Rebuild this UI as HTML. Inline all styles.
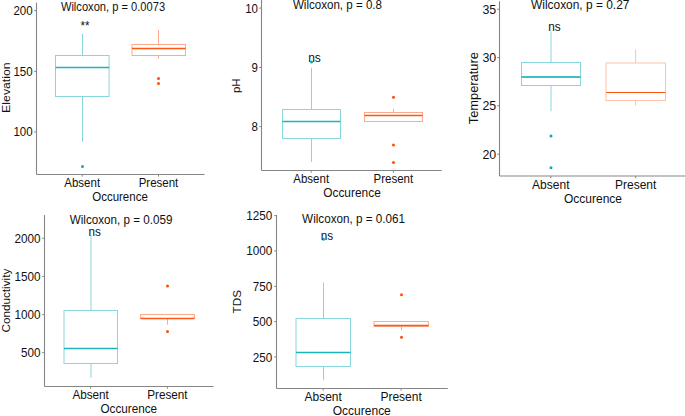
<!DOCTYPE html>
<html><head><meta charset="utf-8"><style>
html,body{margin:0;padding:0;background:#fff;}
svg{display:block;}
text{font-family:"Liberation Sans",sans-serif;fill:#111;}
</style></head><body>
<svg width="685" height="416" viewBox="0 0 685 416">
<rect width="685" height="416" fill="#fff"/>
<line x1="82.5" y1="33.7" x2="82.5" y2="55.5" stroke="#88d6dc" stroke-width="1"/>
<line x1="82.5" y1="96.5" x2="82.5" y2="141.8" stroke="#88d6dc" stroke-width="1"/>
<rect x="55.5" y="55.5" width="53.6" height="41" fill="none" stroke="#88d6dc" stroke-width="1"/>
<line x1="55.5" y1="67.5" x2="109.1" y2="67.5" stroke="#1cb3bf" stroke-width="1.5"/>
<circle cx="82.5" cy="166.5" r="1.5" fill="#00AFBB"/>
<line x1="158.5" y1="30" x2="158.5" y2="44.5" stroke="#fdab8c" stroke-width="1"/>
<line x1="158.5" y1="55.5" x2="158.5" y2="58.7" stroke="#fdab8c" stroke-width="1"/>
<rect x="132" y="44.5" width="53.5" height="11" fill="none" stroke="#fdab8c" stroke-width="1"/>
<line x1="132" y1="48.5" x2="185.5" y2="48.5" stroke="#fc5714" stroke-width="1.5"/>
<circle cx="158.5" cy="78.5" r="1.5" fill="#FC4E07"/>
<circle cx="158.5" cy="83.5" r="1.5" fill="#FC4E07"/>
<line x1="36.5" y1="2.6" x2="36.5" y2="174.5" stroke="#858585" stroke-width="1.1"/>
<line x1="36.5" y1="174.5" x2="204.5" y2="174.5" stroke="#858585" stroke-width="1.1"/>
<line x1="34.2" y1="10.6" x2="36.5" y2="10.6" stroke="#858585" stroke-width="1"/>
<text x="32.6" y="15.1" font-size="12.19" textLength="19.19" lengthAdjust="spacingAndGlyphs" text-anchor="end">200</text>
<line x1="34.2" y1="71.4" x2="36.5" y2="71.4" stroke="#858585" stroke-width="1"/>
<text x="32.6" y="75.9" font-size="12.19" textLength="19.19" lengthAdjust="spacingAndGlyphs" text-anchor="end">150</text>
<line x1="34.2" y1="131.9" x2="36.5" y2="131.9" stroke="#858585" stroke-width="1"/>
<text x="32.6" y="136.4" font-size="12.19" textLength="19.19" lengthAdjust="spacingAndGlyphs" text-anchor="end">100</text>
<line x1="82.2" y1="174.5" x2="82.2" y2="176.7" stroke="#858585" stroke-width="1"/>
<text x="82.2" y="186.7" font-size="12.19" textLength="35.8" lengthAdjust="spacingAndGlyphs" text-anchor="middle">Absent</text>
<line x1="158.5" y1="174.5" x2="158.5" y2="176.7" stroke="#858585" stroke-width="1"/>
<text x="158.5" y="186.7" font-size="12.19" textLength="39.63" lengthAdjust="spacingAndGlyphs" text-anchor="middle">Present</text>
<text x="120" y="201.2" font-size="12.19" textLength="55.61" lengthAdjust="spacingAndGlyphs" text-anchor="middle">Occurence</text>
<text transform="translate(9.6,87.6) scale(0.95,1) rotate(-90)" font-size="12.3" text-anchor="middle">Elevation</text>
<text x="60.9" y="10.8" font-size="12.4" textLength="104.2" lengthAdjust="spacingAndGlyphs">Wilcoxon, p = 0.0073</text>
<text x="84.9" y="29.5" font-size="12.19" textLength="8.95" lengthAdjust="spacingAndGlyphs" text-anchor="middle">**</text>
<line x1="311.5" y1="67.9" x2="311.5" y2="109.5" stroke="#88d6dc" stroke-width="1"/>
<line x1="311.5" y1="138.5" x2="311.5" y2="161.9" stroke="#88d6dc" stroke-width="1"/>
<rect x="282.5" y="109.5" width="58" height="29" fill="none" stroke="#88d6dc" stroke-width="1"/>
<line x1="282.5" y1="121.5" x2="340.5" y2="121.5" stroke="#1cb3bf" stroke-width="1.5"/>
<circle cx="311.5" cy="61.9" r="1.5" fill="#00AFBB"/>
<line x1="393.5" y1="108.9" x2="393.5" y2="112.5" stroke="#fdab8c" stroke-width="1"/>
<rect x="364.5" y="112.5" width="58" height="9" fill="none" stroke="#fdab8c" stroke-width="1"/>
<line x1="364.5" y1="115.5" x2="422.5" y2="115.5" stroke="#fc5714" stroke-width="1.5"/>
<circle cx="393.5" cy="97.3" r="1.5" fill="#FC4E07"/>
<circle cx="393.5" cy="144.9" r="1.5" fill="#FC4E07"/>
<circle cx="393.5" cy="162.5" r="1.5" fill="#FC4E07"/>
<line x1="261.5" y1="0" x2="261.5" y2="170.5" stroke="#858585" stroke-width="1.1"/>
<line x1="261.5" y1="170.5" x2="441.8" y2="170.5" stroke="#858585" stroke-width="1.1"/>
<line x1="259.2" y1="8.1" x2="261.5" y2="8.1" stroke="#858585" stroke-width="1"/>
<text x="258" y="12.6" font-size="12.19" textLength="12.79" lengthAdjust="spacingAndGlyphs" text-anchor="end">10</text>
<line x1="259.2" y1="67.5" x2="261.5" y2="67.5" stroke="#858585" stroke-width="1"/>
<text x="258" y="72" font-size="12.19" textLength="6.4" lengthAdjust="spacingAndGlyphs" text-anchor="end">9</text>
<line x1="259.2" y1="126.6" x2="261.5" y2="126.6" stroke="#858585" stroke-width="1"/>
<text x="258" y="131.1" font-size="12.19" textLength="6.4" lengthAdjust="spacingAndGlyphs" text-anchor="end">8</text>
<line x1="311.2" y1="170.5" x2="311.2" y2="172.7" stroke="#858585" stroke-width="1"/>
<text x="311.2" y="183" font-size="12.19" textLength="35.8" lengthAdjust="spacingAndGlyphs" text-anchor="middle">Absent</text>
<line x1="393.4" y1="170.5" x2="393.4" y2="172.7" stroke="#858585" stroke-width="1"/>
<text x="393.4" y="183" font-size="12.19" textLength="39.63" lengthAdjust="spacingAndGlyphs" text-anchor="middle">Present</text>
<text x="352" y="196.7" font-size="12.61" textLength="57.54" lengthAdjust="spacingAndGlyphs" text-anchor="middle">Occurence</text>
<text transform="translate(240.2,85.7) scale(0.95,1) rotate(-90)" font-size="11.5" text-anchor="middle">pH</text>
<text x="292.9" y="8.8" font-size="12.4" textLength="89.1" lengthAdjust="spacingAndGlyphs">Wilcoxon, p = 0.8</text>
<text x="314.5" y="61.8" font-size="12.72" textLength="12.67" lengthAdjust="spacingAndGlyphs" text-anchor="middle">ns</text>
<line x1="551" y1="31.3" x2="551" y2="62.5" stroke="#88d6dc" stroke-width="1"/>
<line x1="551" y1="85.5" x2="551" y2="111.3" stroke="#88d6dc" stroke-width="1"/>
<rect x="521.5" y="62.5" width="59" height="23" fill="none" stroke="#88d6dc" stroke-width="1"/>
<line x1="521.5" y1="77" x2="580.5" y2="77" stroke="#3dbfc8" stroke-width="2.0"/>
<circle cx="551" cy="136" r="1.5" fill="#00AFBB"/>
<circle cx="551" cy="167.7" r="1.5" fill="#00AFBB"/>
<line x1="635.6" y1="49.6" x2="635.6" y2="63" stroke="#fdc3ab" stroke-width="1"/>
<line x1="635.6" y1="100.5" x2="635.6" y2="105.8" stroke="#fdc3ab" stroke-width="1"/>
<rect x="606" y="63" width="59.5" height="37.5" fill="none" stroke="#fdc3ab" stroke-width="1"/>
<line x1="606" y1="92.5" x2="665.5" y2="92.5" stroke="#fc5416" stroke-width="1.2"/>
<line x1="499.5" y1="1.3" x2="499.5" y2="176" stroke="#858585" stroke-width="1.1"/>
<line x1="499.5" y1="176" x2="685" y2="176" stroke="#858585" stroke-width="1.1"/>
<line x1="497.2" y1="9.25" x2="499.5" y2="9.25" stroke="#858585" stroke-width="1"/>
<text x="496.2" y="13.75" font-size="13.14" textLength="13.79" lengthAdjust="spacingAndGlyphs" text-anchor="end">35</text>
<line x1="497.2" y1="57.6" x2="499.5" y2="57.6" stroke="#858585" stroke-width="1"/>
<text x="496.2" y="62.1" font-size="13.14" textLength="13.79" lengthAdjust="spacingAndGlyphs" text-anchor="end">30</text>
<line x1="497.2" y1="105.7" x2="499.5" y2="105.7" stroke="#858585" stroke-width="1"/>
<text x="496.2" y="110.2" font-size="13.14" textLength="13.79" lengthAdjust="spacingAndGlyphs" text-anchor="end">25</text>
<line x1="497.2" y1="154.2" x2="499.5" y2="154.2" stroke="#858585" stroke-width="1"/>
<text x="496.2" y="158.7" font-size="13.14" textLength="13.79" lengthAdjust="spacingAndGlyphs" text-anchor="end">20</text>
<line x1="550.8" y1="176" x2="550.8" y2="178.2" stroke="#858585" stroke-width="1"/>
<text x="550.8" y="188.7" font-size="12.72" textLength="37.36" lengthAdjust="spacingAndGlyphs" text-anchor="middle">Absent</text>
<line x1="635.7" y1="176" x2="635.7" y2="178.2" stroke="#858585" stroke-width="1"/>
<text x="635.7" y="188.7" font-size="12.72" textLength="41.36" lengthAdjust="spacingAndGlyphs" text-anchor="middle">Present</text>
<text x="593" y="203.2" font-size="12.72" textLength="58.03" lengthAdjust="spacingAndGlyphs" text-anchor="middle">Occurence</text>
<text transform="translate(478.4,88.2) scale(0.95,1) rotate(-90)" font-size="12.85" text-anchor="middle">Temperature</text>
<text x="531" y="9.1" font-size="12.61" textLength="98.4" lengthAdjust="spacingAndGlyphs">Wilcoxon, p = 0.27</text>
<text x="554.4" y="31.3" font-size="12.51" textLength="12.46" lengthAdjust="spacingAndGlyphs" text-anchor="middle">ns</text>
<line x1="91" y1="235" x2="91" y2="310.5" stroke="#88d6dc" stroke-width="1"/>
<line x1="91" y1="363.5" x2="91" y2="377.8" stroke="#88d6dc" stroke-width="1"/>
<rect x="64" y="310.5" width="53.5" height="53" fill="none" stroke="#88d6dc" stroke-width="1"/>
<line x1="64" y1="348.5" x2="117.5" y2="348.5" stroke="#1cb3bf" stroke-width="1.5"/>
<line x1="167.5" y1="314" x2="167.5" y2="314.5" stroke="#fdab8c" stroke-width="1"/>
<line x1="167.5" y1="318.5" x2="167.5" y2="324.7" stroke="#fdab8c" stroke-width="1"/>
<rect x="140.5" y="314.5" width="54" height="4" fill="none" stroke="#fdab8c" stroke-width="1"/>
<line x1="140.5" y1="318.5" x2="194.5" y2="318.5" stroke="#fc5714" stroke-width="1.5"/>
<circle cx="167.5" cy="286.1" r="1.5" fill="#FC4E07"/>
<circle cx="167.5" cy="331.4" r="1.5" fill="#FC4E07"/>
<line x1="44.5" y1="215.1" x2="44.5" y2="386.5" stroke="#858585" stroke-width="1.1"/>
<line x1="44.5" y1="386.5" x2="213.6" y2="386.5" stroke="#858585" stroke-width="1.1"/>
<line x1="42.2" y1="238.3" x2="44.5" y2="238.3" stroke="#858585" stroke-width="1"/>
<text x="40.6" y="242.8" font-size="12.4" textLength="26.03" lengthAdjust="spacingAndGlyphs" text-anchor="end">2000</text>
<line x1="42.2" y1="276.4" x2="44.5" y2="276.4" stroke="#858585" stroke-width="1"/>
<text x="40.6" y="280.9" font-size="12.4" textLength="26.03" lengthAdjust="spacingAndGlyphs" text-anchor="end">1500</text>
<line x1="42.2" y1="314.6" x2="44.5" y2="314.6" stroke="#858585" stroke-width="1"/>
<text x="40.6" y="319.1" font-size="12.4" textLength="26.03" lengthAdjust="spacingAndGlyphs" text-anchor="end">1000</text>
<line x1="42.2" y1="352.6" x2="44.5" y2="352.6" stroke="#858585" stroke-width="1"/>
<text x="40.6" y="357.1" font-size="12.4" textLength="19.52" lengthAdjust="spacingAndGlyphs" text-anchor="end">500</text>
<line x1="90.6" y1="386.5" x2="90.6" y2="388.7" stroke="#858585" stroke-width="1"/>
<text x="90.6" y="398.5" font-size="12.4" textLength="36.43" lengthAdjust="spacingAndGlyphs" text-anchor="middle">Absent</text>
<line x1="167.4" y1="386.5" x2="167.4" y2="388.7" stroke="#858585" stroke-width="1"/>
<text x="167.4" y="398.5" font-size="12.4" textLength="40.32" lengthAdjust="spacingAndGlyphs" text-anchor="middle">Present</text>
<text x="128.8" y="412.9" font-size="12.4" textLength="56.57" lengthAdjust="spacingAndGlyphs" text-anchor="middle">Occurence</text>
<text transform="translate(10.2,300.6) scale(0.95,1) rotate(-90)" font-size="11.7" text-anchor="middle">Conductivity</text>
<text x="69.8" y="223.5" font-size="12.51" textLength="102.6" lengthAdjust="spacingAndGlyphs">Wilcoxon, p = 0.059</text>
<text x="94.7" y="235.6" font-size="12.4" textLength="12.36" lengthAdjust="spacingAndGlyphs" text-anchor="middle">ns</text>
<line x1="323.5" y1="282.5" x2="323.5" y2="318.5" stroke="#88d6dc" stroke-width="1"/>
<line x1="323.5" y1="366.5" x2="323.5" y2="380.2" stroke="#88d6dc" stroke-width="1"/>
<rect x="296" y="318.5" width="54.5" height="48" fill="none" stroke="#88d6dc" stroke-width="1"/>
<line x1="296" y1="352.5" x2="350.5" y2="352.5" stroke="#1cb3bf" stroke-width="1.5"/>
<circle cx="323.5" cy="239.3" r="1.5" fill="#00AFBB"/>
<line x1="401.5" y1="321.2" x2="401.5" y2="321.5" stroke="#fdab8c" stroke-width="1"/>
<line x1="401.5" y1="326.5" x2="401.5" y2="330.4" stroke="#fdab8c" stroke-width="1"/>
<rect x="374" y="321.5" width="54.5" height="5" fill="none" stroke="#fdab8c" stroke-width="1"/>
<line x1="374" y1="325.5" x2="428.5" y2="325.5" stroke="#fc5714" stroke-width="1.5"/>
<circle cx="401.5" cy="294.8" r="1.5" fill="#FC4E07"/>
<circle cx="401.5" cy="337.2" r="1.5" fill="#FC4E07"/>
<line x1="276.5" y1="215.1" x2="276.5" y2="388.5" stroke="#858585" stroke-width="1.1"/>
<line x1="276.5" y1="388.5" x2="447.8" y2="388.5" stroke="#858585" stroke-width="1.1"/>
<line x1="274.2" y1="215.6" x2="276.5" y2="215.6" stroke="#858585" stroke-width="1"/>
<text x="272.2" y="220.1" font-size="12.4" textLength="26.03" lengthAdjust="spacingAndGlyphs" text-anchor="end">1250</text>
<line x1="274.2" y1="250.9" x2="276.5" y2="250.9" stroke="#858585" stroke-width="1"/>
<text x="272.2" y="255.4" font-size="12.4" textLength="26.03" lengthAdjust="spacingAndGlyphs" text-anchor="end">1000</text>
<line x1="274.2" y1="286.4" x2="276.5" y2="286.4" stroke="#858585" stroke-width="1"/>
<text x="272.2" y="290.9" font-size="12.4" textLength="19.52" lengthAdjust="spacingAndGlyphs" text-anchor="end">750</text>
<line x1="274.2" y1="321.6" x2="276.5" y2="321.6" stroke="#858585" stroke-width="1"/>
<text x="272.2" y="326.1" font-size="12.4" textLength="19.52" lengthAdjust="spacingAndGlyphs" text-anchor="end">500</text>
<line x1="274.2" y1="357" x2="276.5" y2="357" stroke="#858585" stroke-width="1"/>
<text x="272.2" y="361.5" font-size="12.4" textLength="19.52" lengthAdjust="spacingAndGlyphs" text-anchor="end">250</text>
<line x1="323.2" y1="388.5" x2="323.2" y2="390.7" stroke="#858585" stroke-width="1"/>
<text x="323.2" y="401.4" font-size="12.72" textLength="37.36" lengthAdjust="spacingAndGlyphs" text-anchor="middle">Absent</text>
<line x1="401.1" y1="388.5" x2="401.1" y2="390.7" stroke="#858585" stroke-width="1"/>
<text x="401.1" y="401.4" font-size="12.72" textLength="41.36" lengthAdjust="spacingAndGlyphs" text-anchor="middle">Present</text>
<text x="361.8" y="415.4" font-size="12.72" textLength="58.03" lengthAdjust="spacingAndGlyphs" text-anchor="middle">Occurence</text>
<text transform="translate(240.6,301.7) scale(0.95,1) rotate(-90)" font-size="11.7" text-anchor="middle">TDS</text>
<text x="302.1" y="223.3" font-size="12.51" textLength="103" lengthAdjust="spacingAndGlyphs">Wilcoxon, p = 0.061</text>
<text x="327" y="239.8" font-size="12.4" textLength="12.36" lengthAdjust="spacingAndGlyphs" text-anchor="middle">ns</text>
</svg>
</body></html>
